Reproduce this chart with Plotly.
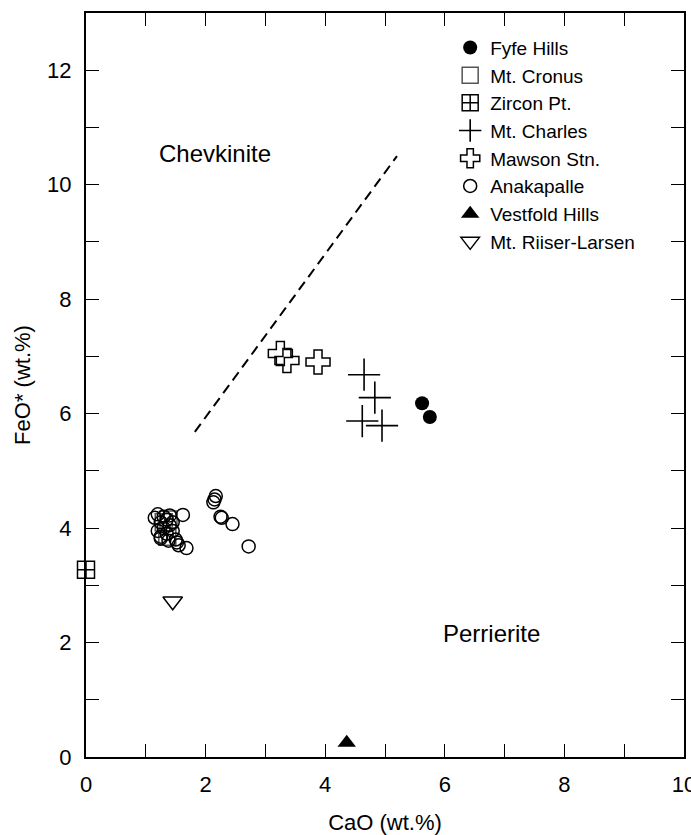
import plotly.graph_objects as go

# CaO vs FeO* data by locality
fyfe_cao = [5.62, 5.75]
fyfe_feo = [6.18, 5.94]

cronus_cao = [1.30, 1.36, 1.38]
cronus_feo = [4.10, 3.85, 4.15]

zircon_cao = [0.0]
zircon_feo = [3.27]

charles_cao = [4.65, 4.83, 4.62, 4.95]
charles_feo = [6.68, 6.28, 5.87, 5.79]

mawson_cao = [3.25, 3.36, 3.88]
mawson_feo = [7.05, 6.93, 6.90]

anak_cao = [1.15, 1.20, 1.25, 1.30, 1.35, 1.40, 1.45, 1.62, 1.20, 1.25, 1.30,
            1.35, 1.40, 1.45, 1.50, 1.55, 1.52, 1.68, 1.25, 1.38,
            2.15, 2.17, 2.13, 2.25, 2.27, 2.45, 2.72]
anak_feo = [4.18, 4.24, 4.10, 4.20, 4.15, 4.22, 4.10, 4.23, 3.95, 3.85, 4.00,
            3.90, 4.05, 3.95, 3.80, 3.70, 3.75, 3.65, 3.82, 3.78,
            4.50, 4.56, 4.45, 4.20, 4.18, 4.07, 3.68]

vestfold_cao = [4.36]
vestfold_feo = [0.25]

riiser_cao = [1.45]
riiser_feo = [2.72]

# dividing line between the two fields
line_cao = [1.82, 5.2]
line_feo = [5.68, 10.5]

fig = go.Figure()

fig.add_trace(go.Scatter(x=line_cao, y=line_feo, mode='lines', showlegend=False,
                         line=dict(color='black', width=2, dash='10px,6px')))

series = [
    ('Fyfe Hills', fyfe_cao, fyfe_feo, dict(symbol='circle', size=14, color='black')),
    ('Mt. Cronus', cronus_cao, cronus_feo,
     dict(symbol='square-open', size=17, color='#555555', line=dict(width=1.5))),
    ('Zircon Pt.', zircon_cao, zircon_feo,
     dict(symbol='square-cross-open', size=17, color='black', line=dict(width=1.5))),
    ('Mt. Charles', charles_cao, charles_feo,
     dict(symbol='cross-thin-open', size=23, color='black', line=dict(width=1.6))),
    ('Mawson Stn.', mawson_cao, mawson_feo,
     dict(symbol='cross-open', size=20, color='black', line=dict(width=1.5))),
    ('Anakapalle', anak_cao, anak_feo,
     dict(symbol='circle-open', size=13, color='black', line=dict(width=1.5))),
    ('Vestfold Hills', vestfold_cao, vestfold_feo,
     dict(symbol='triangle-up', size=16, color='black')),
    ('Mt. Riiser-Larsen', riiser_cao, riiser_feo,
     dict(symbol='triangle-down-open', size=17, color='black', line=dict(width=1.5))),
]

for name, xs, ys, mk in series:
    fig.add_trace(go.Scatter(x=xs, y=ys, mode='markers', name=name,
                             marker=mk, cliponaxis=False))

fig.add_annotation(x=2.15, y=10.55, text='Chevkinite', showarrow=False,
                   font=dict(size=24, color='black'))
fig.add_annotation(x=6.78, y=2.15, text='Perrierite', showarrow=False,
                   font=dict(size=24, color='black'))

axis_common = dict(showgrid=False, zeroline=False, showline=True, linecolor='black',
                   linewidth=2, mirror='ticks', ticks='inside', ticklen=13,
                   tickwidth=1.2, tickcolor='black', tickfont=dict(size=22),
                   automargin=False, ticklabeloverflow='allow',
                   minor=dict(dtick=1, ticks='inside', ticklen=13, tickwidth=1.2,
                              tickcolor='black'))

fig.update_xaxes(range=[0, 10], dtick=2, ticklabelstandoff=7,
                 title=dict(text='CaO (wt.%)', font=dict(size=22), standoff=18),
                 **axis_common)
fig.update_yaxes(range=[0, 13], tickvals=[0, 2, 4, 6, 8, 10, 12], ticklabelstandoff=8,
                 title=dict(text='FeO* (wt.%)', font=dict(size=22), standoff=10),
                 **axis_common)

fig.update_layout(
    width=691, height=835,
    paper_bgcolor='white', plot_bgcolor='white',
    font=dict(family='Liberation Sans, Arial, sans-serif', color='black'),
    margin=dict(l=86, r=7, t=13, b=78),
    legend=dict(x=0.609, y=0.979, xanchor='left', yanchor='top',
                font=dict(size=19), bgcolor='rgba(0,0,0,0)', tracegroupgap=0,
                itemwidth=30),
)

fig.write_html('out.html', config={'displayModeBar': False},
               post_script="document.body.style.margin='0px';")
